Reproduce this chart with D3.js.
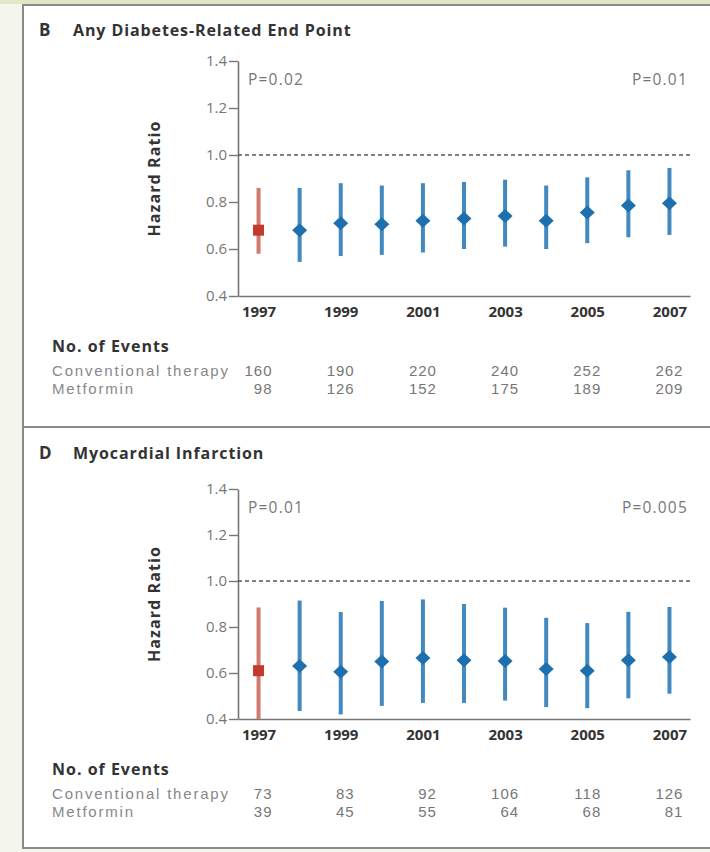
<!DOCTYPE html>
<html>
<head>
<meta charset="utf-8">
<script src="https://cdnjs.cloudflare.com/ajax/libs/d3/7.8.5/d3.min.js"></script>
<style>
  html, body { margin: 0; padding: 0; background: #f4f5ec; }
  svg { display: block; font-family: "Open Sans", sans-serif; }
</style>
</head>
<body>
<svg width="710" height="852"></svg>
<script>
// years of follow-up, one estimate per year
const years = [1997, 1998, 1999, 2000, 2001, 2002, 2003, 2004, 2005, 2006, 2007];
const tickYears = [1997, 1999, 2001, 2003, 2005, 2007];
const hrTicks = [0.4, 0.6, 0.8, 1.0, 1.2, 1.4];

// B: any diabetes-related end point
const endpointHR = [0.68, 0.68, 0.71, 0.705, 0.72, 0.73, 0.74, 0.72, 0.755, 0.785, 0.795];
const endpointLo = [0.58, 0.545, 0.57, 0.575, 0.585, 0.60, 0.61, 0.60, 0.625, 0.65, 0.66];
const endpointHi = [0.86, 0.86, 0.88, 0.87, 0.88, 0.885, 0.895, 0.87, 0.905, 0.935, 0.945];
const endpointConv = [160, 190, 220, 240, 252, 262];
const endpointMet = [98, 126, 152, 175, 189, 209];

// D: myocardial infarction
const miHR = [0.61, 0.63, 0.605, 0.65, 0.665, 0.655, 0.652, 0.617, 0.61, 0.655, 0.67];
const miLo = [0.40, 0.435, 0.42, 0.457, 0.47, 0.47, 0.48, 0.452, 0.447, 0.49, 0.51];
const miHi = [0.885, 0.915, 0.865, 0.913, 0.92, 0.90, 0.884, 0.84, 0.817, 0.866, 0.887];
const miConv = [73, 83, 92, 106, 118, 126];
const miMet = [39, 45, 55, 64, 68, 81];

const svg = d3.select('svg');

// frame: greenish strip on top, white panels with grey borders
svg.append('rect').attr('x', 0).attr('y', 0).attr('width', 710).attr('height', 4).attr('fill', '#e3e7c8');

const panels = [
  { letter: 'B', title: 'Any Diabetes-Related End Point', top: 5, bottom: 427, dy: 0,
    yRange: [296, 61], hr: endpointHR, lo: endpointLo, hi: endpointHi,
    conv: endpointConv, met: endpointMet, pLeft: 'P=0.02', pRight: 'P=0.01' },
  { letter: 'D', title: 'Myocardial Infarction', top: 427, bottom: 848, dy: 423,
    yRange: [719, 489], hr: miHR, lo: miLo, hi: miHi,
    conv: miConv, met: miMet, pLeft: 'P=0.01', pRight: 'P=0.005' }
];

const x = d3.scaleLinear().domain([1996.5, 2007.5]).range([238, 690]);
const tableFont = '"Liberation Sans", Arial, sans-serif';

panels.forEach(p => {
  svg.append('rect')
    .attr('x', 23).attr('y', p.top)
    .attr('width', 700).attr('height', p.bottom - p.top)
    .attr('fill', '#fff').attr('stroke', '#8a8a8a').attr('stroke-width', 2);

  const g = svg.append('g');
  const y = d3.scaleLinear().domain([0.4, 1.4]).range(p.yRange);

  // title
  g.append('text').attr('x', 39).attr('y', 36 + p.dy)
    .attr('font-size', 17).attr('font-weight', 700).attr('fill', '#333')
    .text(p.letter);
  g.append('text').attr('x', 73).attr('y', 36 + p.dy)
    .attr('font-size', 16).attr('font-weight', 700).attr('fill', '#333')
    .attr('letter-spacing', 0.9)
    .text(p.title);

  // y axis
  const yAxis = g.append('g')
    .attr('transform', `translate(${x.range()[0]},0)`)
    .call(d3.axisLeft(y).tickValues(hrTicks).tickFormat(d3.format('.1f')).tickSize(9).tickSizeOuter(0));
  yAxis.select('.domain').attr('stroke', '#777').attr('stroke-width', 1.6);
  yAxis.selectAll('.tick line').attr('stroke', '#777').attr('stroke-width', 1.4);
  yAxis.selectAll('.tick text').attr('font-size', 15).attr('fill', '#777')
    .attr('font-family', '"Open Sans", sans-serif').attr('x', -11);

  // x axis: line plus year labels, no tick marks
  const xAxis = g.append('g')
    .attr('transform', `translate(0,${y(0.4)})`)
    .call(d3.axisBottom(x).tickValues(tickYears).tickFormat(d3.format('d')).tickSize(0).tickPadding(10));
  xAxis.select('.domain').attr('stroke', '#777').attr('stroke-width', 1.6);
  xAxis.selectAll('.tick text').attr('font-size', 15).attr('font-weight', 700).attr('fill', '#333')
    .attr('font-family', '"Open Sans", sans-serif');

  // reference line at HR = 1
  g.append('line')
    .attr('x1', x.range()[0]).attr('x2', x.range()[1])
    .attr('y1', y(1)).attr('y2', y(1))
    .attr('stroke', '#555').attr('stroke-width', 1.3).attr('stroke-dasharray', '4,3');

  // axis title
  g.append('text')
    .attr('transform', `translate(160,${(p.yRange[0] + p.yRange[1]) / 2}) rotate(-90)`)
    .attr('text-anchor', 'middle').attr('font-size', 16).attr('font-weight', 700).attr('fill', '#333')
    .attr('letter-spacing', 1.1)
    .text('Hazard Ratio');

  // p values
  g.append('text').attr('x', 248).attr('y', y(1.4) + 24)
    .attr('font-size', 15.5).attr('fill', '#777').attr('letter-spacing', 1.2).text(p.pLeft);
  g.append('text').attr('x', 688).attr('y', y(1.4) + 24)
    .attr('text-anchor', 'end').attr('font-size', 15.5).attr('fill', '#777').attr('letter-spacing', 1.2)
    .text(p.pRight);

  // confidence intervals
  g.selectAll('.ci').data(years).enter().append('line')
    .attr('class', 'ci')
    .attr('x1', d => x(d)).attr('x2', d => x(d))
    .attr('y1', (d, i) => y(p.lo[i])).attr('y2', (d, i) => y(p.hi[i]))
    .attr('stroke', (d, i) => i === 0 ? '#d27a6f' : '#4189c0')
    .attr('stroke-width', 4);

  // point estimates: red square for 1997, blue diamonds after
  g.append('rect')
    .attr('x', x(years[0]) - 5.5).attr('y', y(p.hr[0]) - 5.5)
    .attr('width', 11).attr('height', 11).attr('fill', '#c23a2c');
  g.selectAll('.pt').data(years.slice(1)).enter().append('path')
    .attr('class', 'pt')
    .attr('transform', (d, i) => `translate(${x(d)},${y(p.hr[i + 1])})`)
    .attr('d', 'M0,-7L7.5,0L0,7L-7.5,0Z')
    .attr('fill', '#1d6fae');

  // number of events table
  const t0 = y(0.4) + 56;
  g.append('text').attr('x', 52).attr('y', t0)
    .attr('font-size', 16).attr('font-weight', 700).attr('fill', '#333')
    .attr('letter-spacing', 1).text('No. of Events');
  const rows = [['Conventional therapy', p.conv], ['Metformin', p.met]];
  rows.forEach((r, ri) => {
    const ry = t0 + 24 + ri * 18;
    g.append('text').attr('x', 52).attr('y', ry)
      .attr('font-family', tableFont).attr('font-size', 15).attr('fill', '#888')
      .attr('letter-spacing', 1.8).text(r[0]);
    g.selectAll(null).data(r[1]).enter().append('text')
      .attr('x', (d, i) => x(tickYears[i]) + 14).attr('y', ry)
      .attr('text-anchor', 'end')
      .attr('font-family', tableFont).attr('font-size', 15).attr('fill', '#777')
      .attr('letter-spacing', 1)
      .text(d => d);
  });
});
</script>
</body>
</html>
